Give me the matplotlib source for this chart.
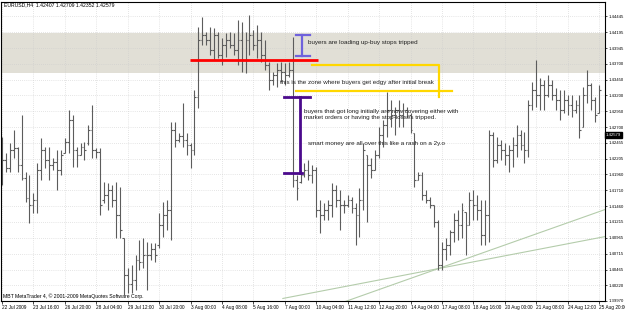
import matplotlib
matplotlib.use("Agg")
import matplotlib.pyplot as plt
import numpy as np

# --- EURUSD H4 bars (22 Jul - 25 Aug 2009) ---
highs = [
    1.4255, 1.4230, 1.4245, 1.4266, 1.4239, 1.4289, 1.4200, 1.4195, 1.4167, 1.4214,
    1.4253, 1.4239, 1.4239, 1.4222, 1.4234, 1.4234, 1.4253, 1.4297, 1.4289, 1.4239,
    1.4245, 1.4247, 1.4274, 1.4305, 1.4238, 1.4238, 1.4184, 1.4183, 1.4180, 1.4184,
    1.4176, 1.4096, 1.4049, 1.4054, 1.4070, 1.4093, 1.4096, 1.4090, 1.4088, 1.4088,
    1.4136, 1.4153, 1.4156, 1.4278, 1.4278, 1.4261, 1.4308, 1.4261, 1.4245, 1.4329,
    1.4428,
    1.4443, 1.4420, 1.4428, 1.4426, 1.4420, 1.4410, 1.4418, 1.4420, 1.4418, 1.4439,
    1.4435, 1.4420, 1.4446, 1.4423, 1.4431, 1.4420, 1.4407, 1.4373, 1.4357, 1.4371,
    1.4373, 1.4371, 1.4373, 1.4412,
    1.4195, 1.4203, 1.4214, 1.4219, 1.4211, 1.4208, 1.4156, 1.4151, 1.4156, 1.4183,
    1.4180, 1.4172, 1.4156, 1.4164, 1.4161, 1.4151, 1.4175, 1.4245, 1.4227, 1.4222,
    1.4234, 1.4271, 1.4282, 1.4326, 1.4313, 1.4302, 1.4313, 1.4308, 1.4302, 1.4293,
    1.4261, 1.4200, 1.4200, 1.4172, 1.4161, 1.4148, 1.4125, 1.4090, 1.4096, 1.4109,
    1.4136, 1.4140, 1.4151, 1.4137, 1.4169, 1.4172, 1.4164, 1.4156, 1.4156, 1.4266,
    1.4263, 1.4255, 1.4250, 1.4245, 1.4242, 1.4255, 1.4274, 1.4266, 1.4263, 1.4313,
    1.4341, 1.4376, 1.4348, 1.4344, 1.4352, 1.4344, 1.4332, 1.4329, 1.4329, 1.4321,
    1.4321, 1.4313, 1.4321, 1.4333, 1.4360, 1.4340, 1.4318, 1.4337,
]
lows = [
    1.4180, 1.4200, 1.4200, 1.4222, 1.4200, 1.4187, 1.4153, 1.4120, 1.4136, 1.4136,
    1.4187, 1.4206, 1.4187, 1.4203, 1.4172, 1.4195, 1.4230, 1.4230, 1.4208, 1.4208,
    1.4227, 1.4219, 1.4242, 1.4222, 1.4222, 1.4132, 1.4151, 1.4140, 1.4145, 1.4096,
    1.4096, 1.4007, 1.4010, 1.4010, 1.4015, 1.4046, 1.4049, 1.4015, 1.4062, 1.4059,
    1.4081, 1.4098, 1.4109, 1.4093, 1.4239, 1.4247, 1.4239, 1.4227, 1.4206, 1.4227,
    1.4300,
    1.4399, 1.4399, 1.4384, 1.4376, 1.4379, 1.4368, 1.4381, 1.4395, 1.4384, 1.4368,
    1.4357, 1.4355, 1.4384, 1.4392, 1.4379, 1.4373, 1.4360, 1.4329, 1.4337, 1.4333,
    1.4341, 1.4337, 1.4349, 1.4176,
    1.4156, 1.4183, 1.4192, 1.4187, 1.4183, 1.4129, 1.4104, 1.4125, 1.4125, 1.4129,
    1.4145, 1.4109, 1.4136, 1.4145, 1.4136, 1.4085, 1.4098, 1.4140, 1.4121, 1.4191,
    1.4203, 1.4222, 1.4239, 1.4255, 1.4271, 1.4258, 1.4271, 1.4271, 1.4286, 1.4261,
    1.4176, 1.4187, 1.4156, 1.4151, 1.4143, 1.4114, 1.4046, 1.4046, 1.4062, 1.4070,
    1.4090, 1.4093, 1.4096, 1.4070, 1.4117, 1.4125, 1.4125, 1.4085, 1.4085, 1.4090,
    1.4208, 1.4214, 1.4219, 1.4211, 1.4200, 1.4208, 1.4224, 1.4234, 1.4214, 1.4224,
    1.4297, 1.4302, 1.4297, 1.4297, 1.4318, 1.4313, 1.4297, 1.4282, 1.4293, 1.4289,
    1.4286, 1.4293, 1.4253, 1.4271, 1.4308, 1.4297, 1.4278, 1.4293,
]
opens = [
    1.4195, 1.4219, 1.4206, 1.4234, 1.4238, 1.4211, 1.4191, 1.4159, 1.4148, 1.4156,
    1.4203, 1.4234, 1.4219, 1.4211, 1.4216, 1.4203, 1.4230, 1.4247, 1.4282, 1.4234,
    1.4227, 1.4239, 1.4245, 1.4266, 1.4234, 1.4231, 1.4156, 1.4164, 1.4172, 1.4156,
    1.4132, 1.4096, 1.4038, 1.4023, 1.4030, 1.4062, 1.4059, 1.4070, 1.4070, 1.4078,
    1.4085, 1.4117, 1.4132, 1.4140, 1.4266, 1.4250, 1.4256, 1.4250, 1.4242, 1.4234,
    1.4318,
    1.4407, 1.4415, 1.4407, 1.4392, 1.4415, 1.4384, 1.4399, 1.4407, 1.4399, 1.4392,
    1.4407, 1.4376, 1.4407, 1.4415, 1.4399, 1.4407, 1.4384, 1.4368, 1.4344, 1.4352,
    1.4360, 1.4357, 1.4352, 1.4360,
    1.4187, 1.4184, 1.4195, 1.4203, 1.4195, 1.4203, 1.4140, 1.4132, 1.4140, 1.4148,
    1.4172, 1.4156, 1.4148, 1.4148, 1.4156, 1.4143, 1.4132, 1.4156, 1.4227, 1.4211,
    1.4203, 1.4227, 1.4258, 1.4274, 1.4297, 1.4289, 1.4297, 1.4289, 1.4297, 1.4289,
    1.4261, 1.4187, 1.4195, 1.4164, 1.4156, 1.4148, 1.4121, 1.4054, 1.4078, 1.4085,
    1.4106, 1.4125, 1.4117, 1.4137, 1.4117, 1.4156, 1.4148, 1.4140, 1.4101, 1.4132,
    1.4258, 1.4219, 1.4242, 1.4234, 1.4227, 1.4234, 1.4242, 1.4258, 1.4242, 1.4234,
    1.4305, 1.4329, 1.4321, 1.4337, 1.4321, 1.4337, 1.4321, 1.4313, 1.4297, 1.4313,
    1.4305, 1.4297, 1.4305, 1.4271, 1.4321, 1.4337, 1.4313, 1.4293,
]
closes = [
    1.4219, 1.4206, 1.4234, 1.4238, 1.4211, 1.4191, 1.4159, 1.4148, 1.4156, 1.4203,
    1.4234, 1.4219, 1.4211, 1.4216, 1.4203, 1.4227, 1.4247, 1.4282, 1.4234, 1.4227,
    1.4239, 1.4234, 1.4266, 1.4234, 1.4231, 1.4148, 1.4164, 1.4172, 1.4156, 1.4132,
    1.4109, 1.4038, 1.4023, 1.4030, 1.4062, 1.4059, 1.4070, 1.4070, 1.4078, 1.4070,
    1.4117, 1.4132, 1.4140, 1.4266, 1.4250, 1.4256, 1.4250, 1.4242, 1.4234, 1.4318,
    1.4407,
    1.4415, 1.4407, 1.4392, 1.4415, 1.4384, 1.4399, 1.4407, 1.4399, 1.4392, 1.4407,
    1.4376, 1.4407, 1.4415, 1.4399, 1.4407, 1.4384, 1.4368, 1.4344, 1.4352, 1.4360,
    1.4357, 1.4352, 1.4360, 1.4187,
    1.4175, 1.4195, 1.4203, 1.4195, 1.4203, 1.4140, 1.4132, 1.4140, 1.4148, 1.4172,
    1.4156, 1.4148, 1.4148, 1.4156, 1.4143, 1.4132, 1.4156, 1.4234, 1.4211, 1.4203,
    1.4227, 1.4258, 1.4274, 1.4297, 1.4289, 1.4297, 1.4289, 1.4297, 1.4289, 1.4266,
    1.4187, 1.4195, 1.4164, 1.4156, 1.4148, 1.4121, 1.4054, 1.4078, 1.4085, 1.4106,
    1.4125, 1.4117, 1.4140, 1.4117, 1.4156, 1.4148, 1.4140, 1.4101, 1.4132, 1.4258,
    1.4219, 1.4242, 1.4234, 1.4227, 1.4234, 1.4242, 1.4258, 1.4242, 1.4234, 1.4305,
    1.4329, 1.4321, 1.4337, 1.4321, 1.4337, 1.4321, 1.4313, 1.4297, 1.4313, 1.4305,
    1.4297, 1.4305, 1.4266, 1.4321, 1.4337, 1.4313, 1.4289, 1.4329,
]

# axis labels as printed by the terminal
x_labels = ["22 Jul 2009", "23 Jul 16:00", "26 Jul 20:00", "28 Jul 04:00", "29 Jul 12:00",
            "30 Jul 20:00", "3 Aug 00:00", "4 Aug 08:00", "5 Aug 16:00", "7 Aug 00:00",
            "10 Aug 04:00", "11 Aug 12:00", "12 Aug 20:00", "14 Aug 04:00", "17 Aug 08:00",
            "18 Aug 16:00", "20 Aug 00:00", "21 Aug 08:00", "24 Aug 12:00", "25 Aug 20:00"]
bars_per_label = 8
y_ticks = [1.44445, 1.44195, 1.43945, 1.43700, 1.43450, 1.43200, 1.42950, 1.42700,
           1.42455, 1.42205, 1.41960, 1.41710, 1.41460, 1.41215, 1.40965, 1.40715,
           1.40465, 1.40220, 1.39970]
last_price = 1.42579
title = "EURUSD,H4  1.42407 1.42709 1.42352 1.42579"

# hand drawn objects (bar index, price)
zone = (1.43554, 1.44182)
red_line = ([47.8, 80.4], [1.43758, 1.43758])
trend_a = ([71.5, 155.0], [1.4001, 1.4100])
trend_b = ([87.3, 155.0], [1.3996, 1.4144])

fig = plt.figure(figsize=(6.25, 3.10), dpi=100)
fig.patch.set_facecolor("white")
ax = fig.add_axes([1 / 625, 9 / 310, 604 / 625, 299 / 310])
ax.set_facecolor("white")

n = len(highs)
idx = np.arange(n)

ax.axhspan(zone[0], zone[1], color="#e1dfd6", zorder=0, lw=0)

# grid (dotted, like MT4)
xt = idx[::bars_per_label]
for yv in y_ticks:
    ax.axhline(yv, color="#cccccc", lw=0.5, ls=(0, (1, 2)), zorder=0.5)
for xv in xt:
    ax.axvline(xv, color="#cccccc", lw=0.5, ls=(0, (1, 2)), zorder=0.5)

bar_col = "#5c5c5c"
ax.vlines(idx, lows, highs, color=bar_col, lw=0.8, zorder=2)
ax.hlines(opens, idx - 0.45, idx, color=bar_col, lw=0.8, zorder=2)
ax.hlines(closes, idx, idx + 0.45, color=bar_col, lw=0.8, zorder=2)

# trend lines
ax.plot(*trend_a, color="#b4ccab", lw=0.8, zorder=1.5)
ax.plot(*trend_b, color="#b4ccab", lw=0.8, zorder=1.5)

# annotations
ax.plot(*red_line, color="#ff0000", lw=2.0, zorder=3, solid_capstyle="butt")

blue = "#6f62dc"
ax.plot([76.3, 76.3], [1.44151, 1.43821], color=blue, lw=1.6, zorder=3)
ax.plot([74.8, 78.4], [1.44151, 1.44151], color=blue, lw=1.6, zorder=3)
ax.plot([74.8, 78.4], [1.43821, 1.43821], color=blue, lw=1.6, zorder=3)

gold = "#ffd700"
ax.plot([78.9, 111.2, 111.2], [1.43672, 1.43672, 1.43177], color=gold, lw=1.6, zorder=3)
ax.plot([74.8, 114.5], [1.43271, 1.43271], color=gold, lw=1.6, zorder=3)

purple = "#4b0a8c"
ax.plot([71.8, 78.4], [1.43177, 1.43177], color=purple, lw=2.0, zorder=3)
ax.plot([75.8, 75.8], [1.43177, 1.41984], color=purple, lw=2.0, zorder=3)
ax.plot([71.8, 76.3], [1.41984, 1.41984], color=purple, lw=2.0, zorder=3)

fnt = dict(family="Liberation Sans", fontsize=4.5, color="#202020", va="center", zorder=4)
ax.text(77.9, 1.44025, "buyers are loading up-buy stops tripped", **fnt)
ax.text(70.7, 1.43397, "this is the zone where buyers get edgy after initial break", **fnt)
ax.text(76.8, 1.42942, "buyers that got long initially are now covering either with", **fnt)
ax.text(76.8, 1.42847, "market orders or having the stop-losses tripped.", **fnt)
ax.text(77.9, 1.42439, "smart money are all over this like a rash on a 2y.o", **fnt)

# axes
ax.set_xlim(-0.25, 153.5)
ax.set_ylim(1.39974, 1.44669)
for s in ax.spines.values():
    s.set_color("#000000")
    s.set_linewidth(0.8)

ax.yaxis.tick_right()
ax.set_yticks(y_ticks)
ax.set_yticklabels(["%.5f" % v for v in y_ticks], family="Liberation Sans", fontsize=3.1)
ax.set_xticks(xt)
ax.set_xticklabels(x_labels, family="Liberation Sans", fontsize=3.4, ha="left")
ax.tick_params(axis="y", length=1.5, width=0.5, pad=0.8, colors="#000000")
ax.tick_params(axis="x", length=2, width=0.5, pad=1.0, colors="#000000")

# current price marker on the scale
ax.text(1.0015, last_price, "%.5f" % last_price, transform=ax.get_yaxis_transform(),
        family="Liberation Sans", fontsize=3.1, color="white", va="center", ha="left",
        bbox=dict(boxstyle="square,pad=0.2", fc="black", ec="black"), clip_on=False)

fig.text(4 / 625, 1 - 5 / 310, title, family="Liberation Sans", fontsize=3.7,
         color="#000000", va="center", ha="left")
fig.text(3 / 625, 1 - 296 / 310, "MBT MetaTrader 4, \u00a9 2001-2009 MetaQuotes Software Corp.",
         family="Liberation Sans", fontsize=3.7, color="#000000", va="center", ha="left")

fig.savefig("out.png", dpi=100, facecolor="white")
